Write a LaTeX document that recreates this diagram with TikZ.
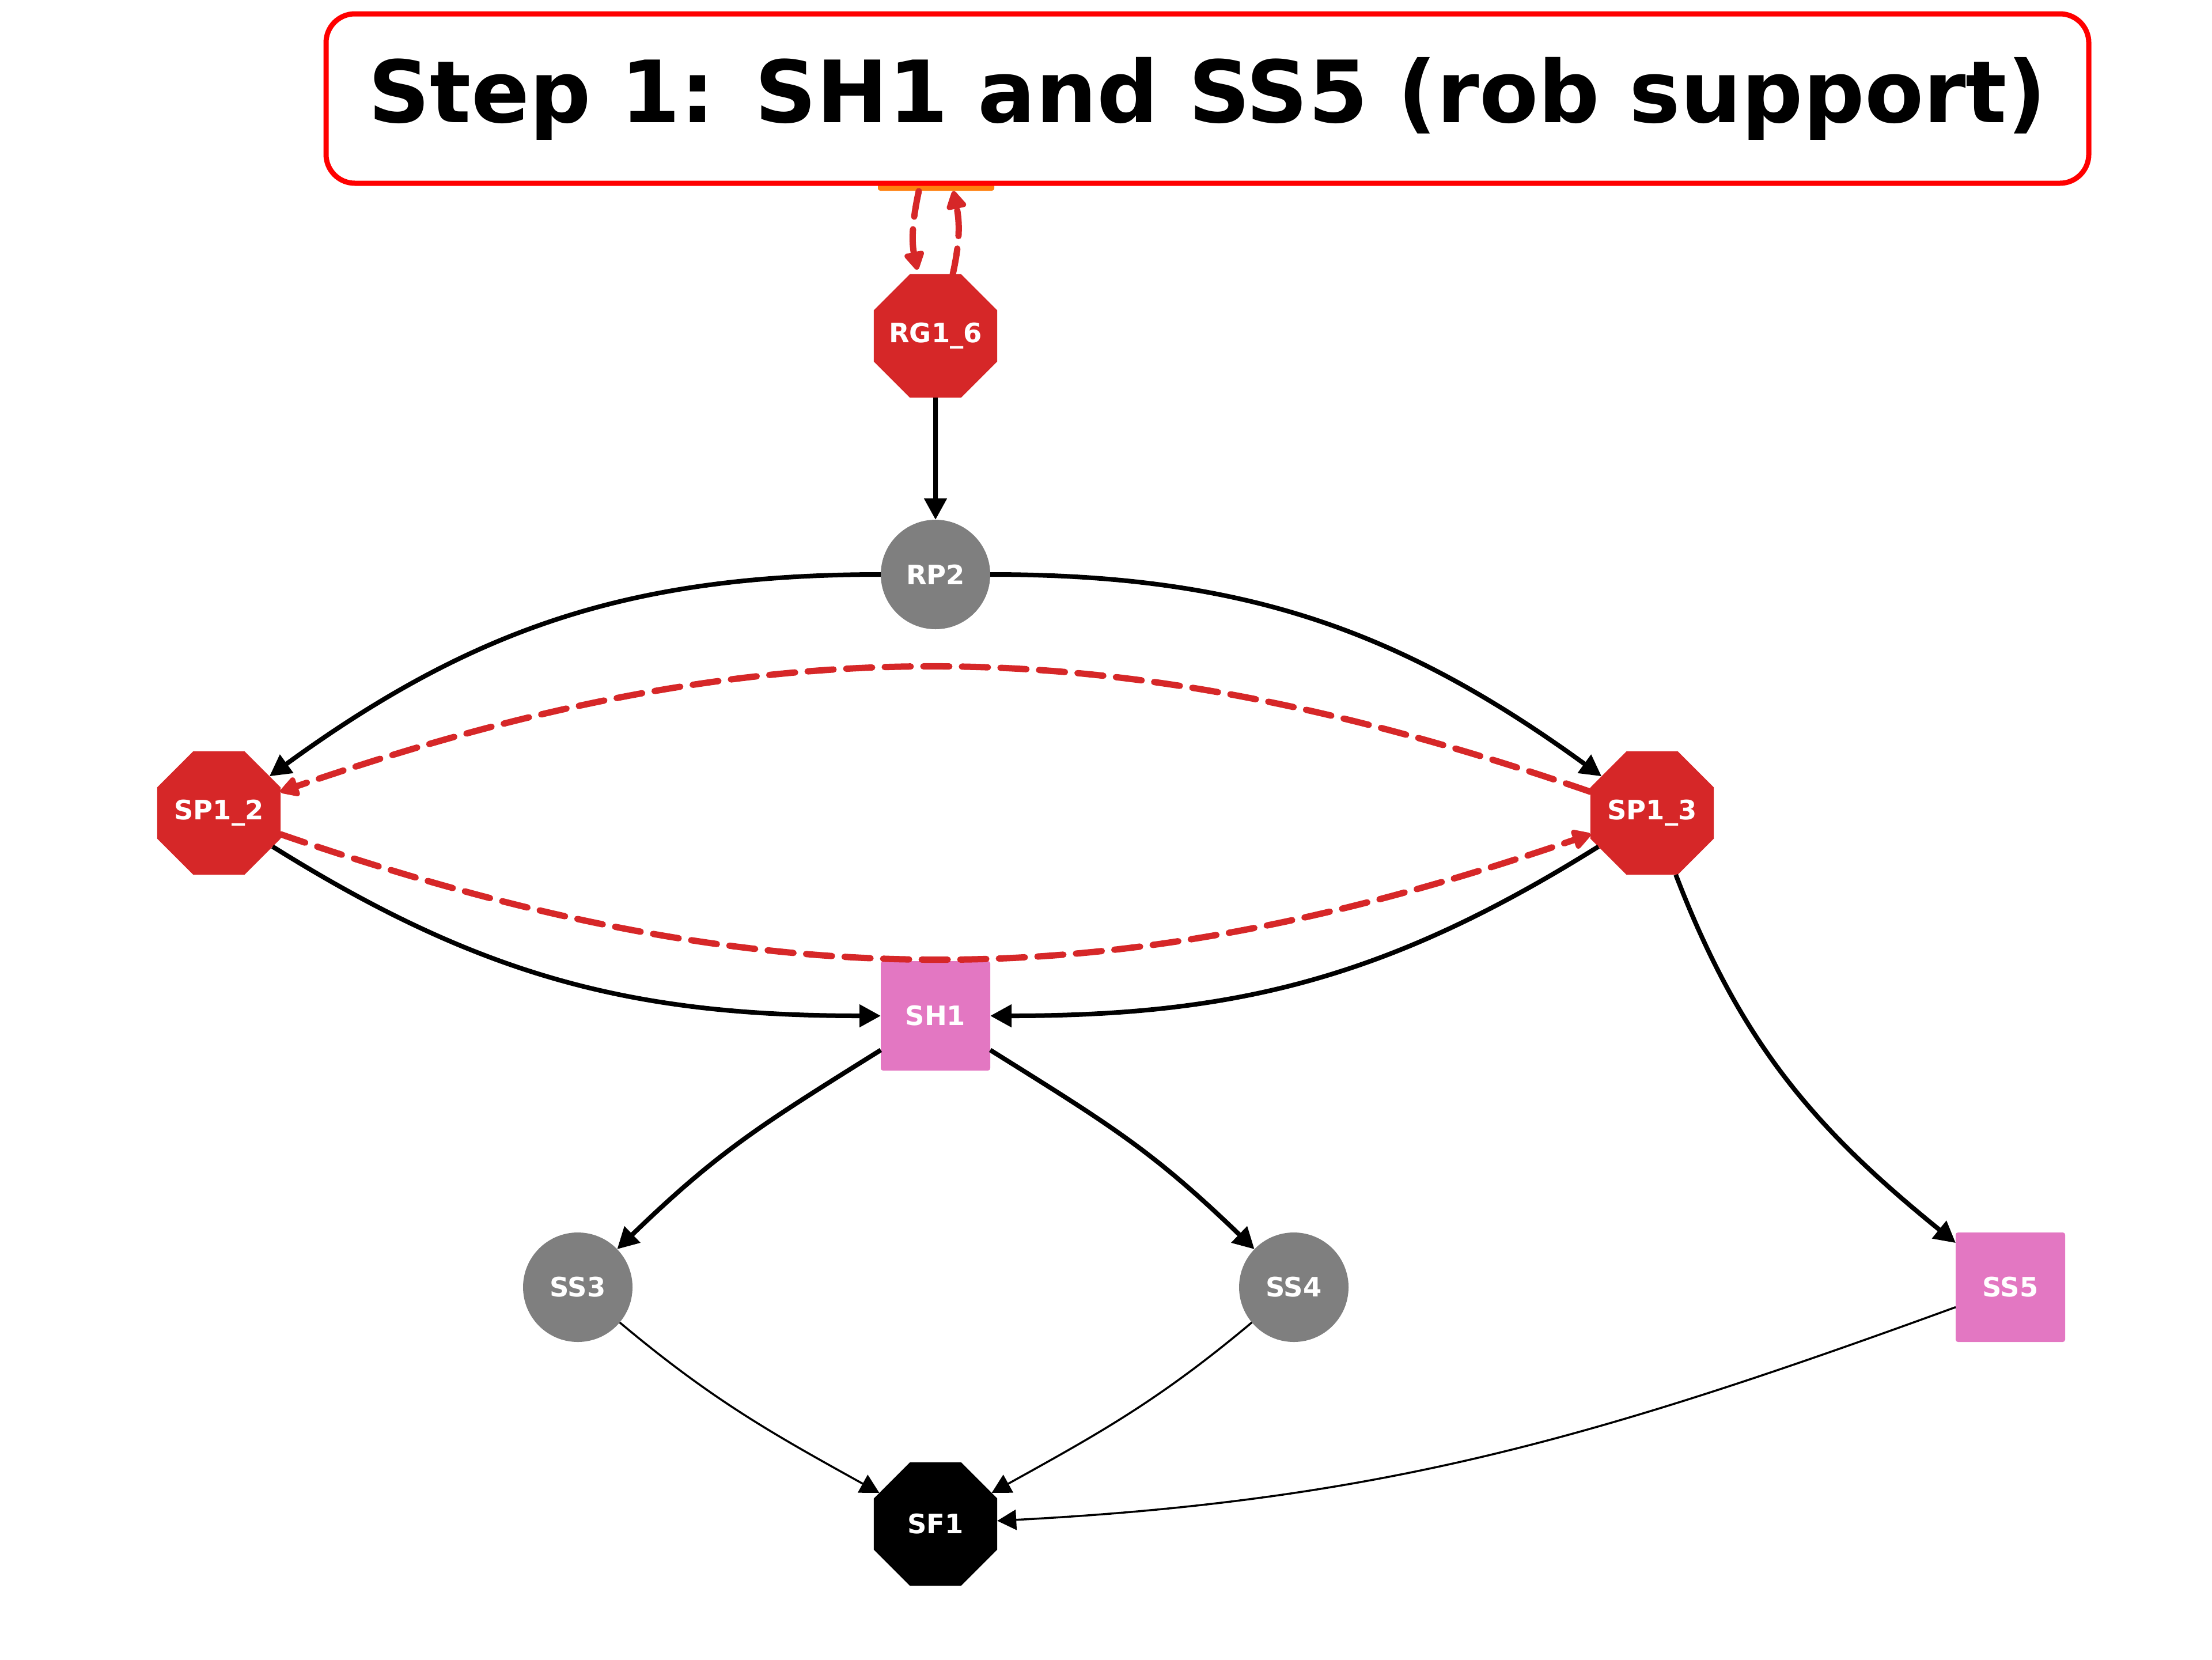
\documentclass[tikz,border=0pt]{standalone}
\usepackage{fontspec}
\setmainfont{DejaVu Sans}
\usetikzlibrary{positioning,shapes.geometric,arrows.meta}
\definecolor{stopred}{HTML}{D62728}
\definecolor{nodegray}{HTML}{7F7F7F}
\definecolor{sqpink}{HTML}{E377C2}
\definecolor{srcorange}{HTML}{FF7F0E}

\begin{document}
\begin{tikzpicture}[auto,on grid]
	\tikzstyle{base}=[inner sep=0pt,outer sep=0pt,text=white,font=\fontsize{13.2}{15}\selectfont\bfseries]
	\tikzstyle{octa}=[base,regular polygon,regular polygon sides=8,inner xsep=-0.6cm,minimum size=2.32cm,fill=stopred]
	\tikzstyle{disc}=[base,circle,minimum size=1.9cm,fill=nodegray]
	\tikzstyle{sq}=[base,rectangle,rounded corners=0.04cm,minimum size=1.9cm,fill=sqpink]
	\tikzstyle{flow}=[-{Triangle[length=0.37cm,width=0.38cm]},line width=0.08cm]
	\tikzstyle{thinflow}=[-{Triangle[length=0.33cm,width=0.35cm]},line width=0.035cm]
	\tikzstyle{back}=[-{Triangle[length=0.36cm,width=0.38cm,round]},line width=0.11cm,stopred,dash pattern=on 0.45cm off 0.22cm,line cap=round,line join=round]
	\useasboundingbox (0,0) rectangle (38.4,-28.8);
		\node[rectangle,rounded corners=0.04cm,minimum size=2.02cm,fill=srcorange] (src) at (16.25,-2.30) {};
		\node[octa] (rg1_6) at (16.24,-5.83) {RG1\_6};
		\node[disc] (rp2) [below=4.14cm of rg1_6] {RP2};
		\node[octa] (sp1_2) [below left=4.14cm and 12.44cm of rp2] {SP1\_2};
		\node[octa] (sp1_3) [below right=4.14cm and 12.44cm of rp2] {SP1\_3};
		\node[sq] (sh1) [below=7.66cm of rp2] {SH1};
		\node[disc] (ss3) [below left=4.71cm and 6.21cm of sh1] {SS3};
		\node[disc] (ss4) [below right=4.71cm and 6.22cm of sh1] {SS4};
		\node[sq] (ss5) [right=12.44cm of ss4] {SS5};
		\node[octa, fill=black] (sf1) [below=8.82cm of sh1] {SF1};
			\draw[back, shorten >=0.08cm] ([xshift=-0.3cm]src.south) to[bend right=12] ([xshift=-0.3cm]rg1_6.north);
			\draw[back] ([xshift=0.3cm]rg1_6.north) to[bend right=12] ([xshift=0.3cm]src.south);
			\draw[flow] (rg1_6) -- (rp2);
			\draw[flow] (rp2) to[out=180,in=36] (sp1_2);
			\draw[flow] (rp2) to[out=0,in=144] (sp1_3);
			\draw[back] (sp1_3) to[bend right=19] (sp1_2);
			\draw[back] (sp1_2) to[bend right=19] (sp1_3);
			\draw[flow] (sp1_2) to[out=-32,in=180] (sh1);
			\draw[flow] (sp1_3) to[out=-148,in=0] (sh1);
			\draw[flow] (sp1_3) to[out=-69,in=141] (ss5);
			\draw[flow] (sh1) to[out=-148,in=44,looseness=1.1] (ss3);
			\draw[flow] (sh1) to[out=-32,in=136,looseness=1.1] (ss4);
			\draw[thinflow] (ss3) to[out=-40,in=151] (sf1);
			\draw[thinflow] (ss4) to[out=-140,in=29] (sf1);
			\draw[thinflow] (ss5) to[out=-160,in=3] (sf1);
		\node[draw=red,line width=0.09cm,fill=white,rounded corners=0.5cm,minimum width=30.6cm,minimum height=2.94cm,font=\fontsize{42.4}{50}\selectfont\bfseries] (title) at (20.96,-1.71) {Step 1: SH1 and SS5 (rob support)};
\end{tikzpicture}
\end{document}
